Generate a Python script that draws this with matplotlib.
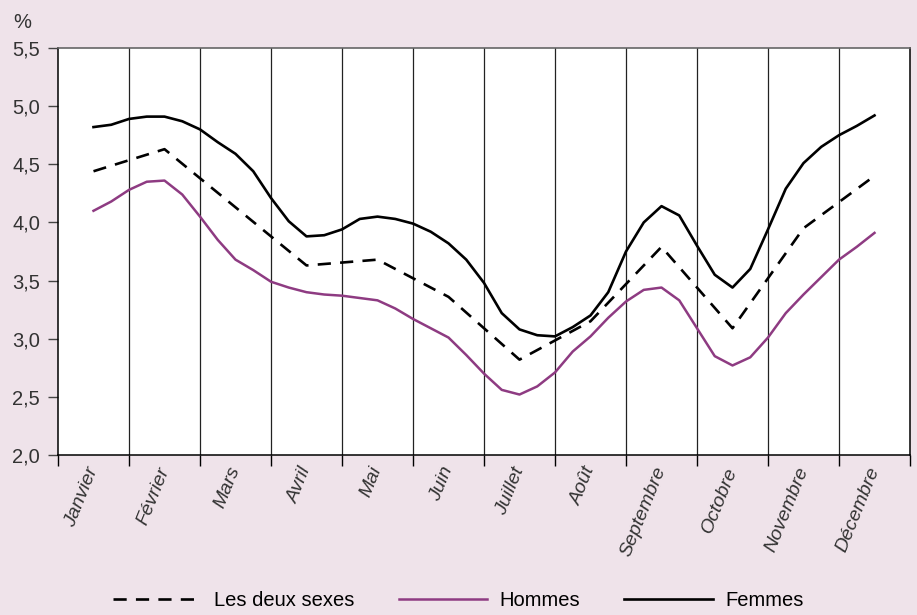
import matplotlib

matplotlib.use("Agg")
import matplotlib.pyplot as plt

# month labels (category axis)
months = ["Janvier", "Février", "Mars", "Avril", "Mai", "Juin", "Juillet",
          "Août", "Septembre", "Octobre", "Novembre", "Décembre"]

# monthly series, one value per month
deux_sexes = [4.44, 4.63, 4.13, 3.63, 3.68, 3.36, 2.82, 3.15, 3.79, 3.09, 3.95, 4.40]

# weekly-ish series (4 points per month, from mid-January to mid-December)
hommes = [4.10, 4.18, 4.28, 4.35, 4.36, 4.24, 4.05, 3.85, 3.68, 3.59,
          3.49, 3.44, 3.40, 3.38, 3.37, 3.35, 3.33, 3.26, 3.17, 3.09,
          3.01, 2.86, 2.70, 2.56, 2.52, 2.59, 2.71, 2.89, 3.02, 3.18,
          3.32, 3.42, 3.44, 3.33, 3.09, 2.85, 2.77, 2.84, 3.01, 3.22,
          3.38, 3.53, 3.68, 3.79, 3.91]
femmes = [4.82, 4.84, 4.89, 4.91, 4.91, 4.87, 4.80, 4.69, 4.59, 4.44,
          4.21, 4.01, 3.88, 3.89, 3.94, 4.03, 4.05, 4.03, 3.99, 3.92,
          3.82, 3.68, 3.48, 3.22, 3.08, 3.03, 3.02, 3.10, 3.20, 3.40,
          3.75, 4.00, 4.14, 4.06, 3.80, 3.55, 3.44, 3.60, 3.94, 4.29,
          4.51, 4.65, 4.75, 4.83, 4.92]

yticks = [2.0, 2.5, 3.0, 3.5, 4.0, 4.5, 5.0, 5.5]

BG = "#EFE3EA"
PURPLE = "#8E3B82"
TXT = "#333333"

fig = plt.figure(figsize=(9.17, 6.15), dpi=100, facecolor=BG)
ax = fig.add_axes([58 / 917, 1 - 455 / 615, (910 - 58) / 917, (455 - 48) / 615])
ax.set_facecolor("white")

x_month = [i + 0.5 for i in range(len(months))]
x_week = [0.5 + k / 4 for k in range(len(hommes))]

for b in range(1, len(months)):
    ax.axvline(b, color="#222222", lw=0.9, zorder=1)

ax.plot(x_month, deux_sexes, color="black", lw=1.9, ls=(0, (5, 3.5)),
        label="Les deux sexes", zorder=3)
ax.plot(x_week, hommes, color=PURPLE, lw=1.8, label="Hommes", zorder=3)
ax.plot(x_week, femmes, color="black", lw=1.9, label="Femmes", zorder=3)

ax.set_xlim(0, 12)
ax.set_ylim(2.0, 5.5)

ax.set_yticks(yticks)
ax.set_yticklabels([f"{v:.1f}".replace(".", ",") for v in yticks],
                   fontfamily="Liberation Sans", fontsize=14.5, color=TXT)
ax.tick_params(axis="y", direction="out", length=7, width=1, pad=6, color="#444444")

ax.set_xticks(range(13))
ax.set_xticklabels([])
ax.set_xticks(x_month, minor=True)
ax.set_xticklabels(months, minor=True, rotation=68, ha="right",
                   rotation_mode="anchor", va="center",
                   fontfamily="Liberation Sans", fontstyle="italic",
                   fontsize=14, color=TXT)
ax.tick_params(axis="x", which="major", direction="out", length=8, width=1)
ax.tick_params(axis="x", which="minor", length=0, pad=9)

for side in ["left", "bottom", "right"]:
    ax.spines[side].set_color("black")
    ax.spines[side].set_linewidth(1.1)
ax.spines["top"].set_color("#666666")
ax.spines["top"].set_linewidth(1.2)

fig.text(13 / 917, 1 - 22 / 615, "%", fontfamily="Liberation Sans",
         fontsize=14.5, color=TXT, va="center", ha="left")

fig.legend(loc="lower center", bbox_to_anchor=(0.5, -0.022), ncol=3,
           frameon=False, handlelength=4.4, handletextpad=0.6,
           columnspacing=2.2,
           prop={"family": "Liberation Sans", "size": 14.5})

fig.savefig("out.png", dpi=100, facecolor=BG)
